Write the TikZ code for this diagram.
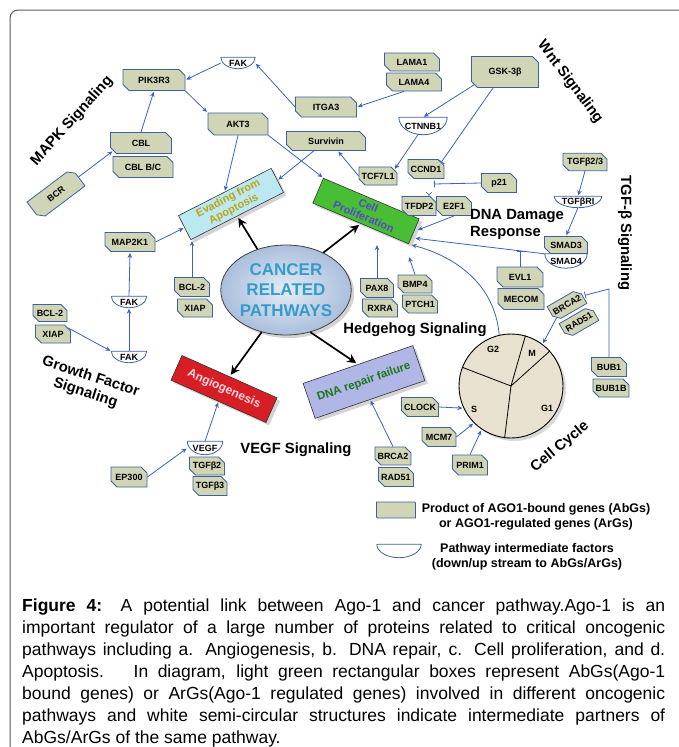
\documentclass[tikz,border=0pt]{standalone}
\usepackage{fontspec}
\setmainfont{Liberation Sans}
\usetikzlibrary{shapes.geometric, shapes.misc, arrows.meta, calc, shadows}

\definecolor{genefill}{RGB}{208,213,182}
\definecolor{genedraw}{RGB}{62,96,160}
\definecolor{linkblue}{RGB}{58,98,190}
\definecolor{evadefill}{RGB}{188,232,242}
\definecolor{evadetext}{RGB}{188,165,18}
\definecolor{profill}{RGB}{72,190,52}
\definecolor{protext}{RGB}{88,72,200}
\definecolor{angiofill}{RGB}{214,30,36}
\definecolor{angiotext}{RGB}{255,214,224}
\definecolor{dnafill}{RGB}{176,182,230}
\definecolor{dnatext}{RGB}{28,120,24}
\definecolor{crpfill}{RGB}{170,190,220}
\definecolor{crptext}{RGB}{52,156,204}
\definecolor{cycfill}{RGB}{232,225,208}
\definecolor{framegray}{RGB}{90,90,90}

\begin{document}
\begin{tikzpicture}[
    x=1pt, y=-1pt,
    gene/.style={
        chamfered rectangle,
        chamfered rectangle corners={north east,south west},
        chamfered rectangle xsep=2.5pt,
        draw=genedraw,
        fill=genefill,
        line width=0.8pt,
        inner xsep=0pt,
        inner ysep=1pt,
        minimum width=35pt,
        minimum height=19pt,
        font=\fontsize{9}{10}\selectfont\bfseries
    },
    semi/.style 2 args={
        inner sep=0pt,
        minimum width=#1,
        minimum height=#2,
        font=\fontsize{9}{10}\selectfont\bfseries
    },
    semiline/.style={draw=genedraw, line width=0.8pt},
    pathbox/.style={
        rectangle,
        draw=black!80,
        line width=0.6pt,
        minimum width=104pt,
        minimum height=27pt,
        inner sep=1pt,
        align=center,
        font=\fontsize{11}{12}\selectfont\bfseries,
        drop shadow={shadow xshift=3pt, shadow yshift=-3pt, opacity=0.35}
    },
    hub/.style={
        ellipse,
        draw=black!75,
        line width=0.8pt,
        inner color=crpfill!30!white,
        outer color=crpfill,
        minimum width=128pt,
        minimum height=90pt,
        inner sep=0pt,
        align=center,
        text=crptext,
        font=\fontsize{17}{20.5}\selectfont\bfseries,
        drop shadow={shadow xshift=3pt, shadow yshift=-3pt, opacity=0.35}
    },
    sig/.style={align=center, font=\fontsize{14.8}{17}\selectfont\bfseries},
    phase/.style={font=\fontsize{9}{10}\selectfont\bfseries},
    legtext/.style={align=center, font=\fontsize{12.5}{14.5}\selectfont\bfseries},
    arrow/.style={-{Stealth[length=5pt,width=4.5pt]}, draw=linkblue, line width=0.8pt, shorten >=1pt},
    inhibit/.style={-{Bar[width=7pt]}, draw=linkblue, line width=0.8pt},
    dblarrow/.style={-{Implies}, draw=linkblue, double=white, double distance=1.4pt, line width=0.6pt},
    bigarrow/.style={-{Stealth[length=9pt,width=9pt,inset=3pt]}, line width=1.7pt, shorten >=2pt}
]
\useasboundingbox (0,0) rectangle (678,747);

% frame
\draw[framegray, line width=1pt, rounded corners=8pt] (10,760) |- (700,10);

% pathways
\node[hub] (crp) at (286,290) {CANCER\\RELATED\\PATHWAYS};
\node[pathbox, fill=evadefill, text=evadetext, rotate=27] (evading) at (231,204) {Evading from\\Apoptosis};
\node[pathbox, fill=profill, text=protext, rotate=-23] (cellpro) at (366,211) {Cell\\Proliferation};
\node[pathbox, fill=angiofill, text=angiotext, rotate=-24,
      font=\fontsize{12}{13}\selectfont\bfseries] (angio) at (224,389) {Angiogenesis};
\node[pathbox, fill=dnafill, text=dnatext, rotate=19, minimum width=116pt, minimum height=37pt,
      font=\fontsize{11.5}{12}\selectfont\bfseries] (dnarep) at (364,382) {DNA repair failure};

% cell cycle
\node[circle, draw=black, line width=0.9pt, fill=cycfill, minimum size=104pt, inner sep=0pt,
      drop shadow={shadow xshift=3pt, shadow yshift=-3pt, opacity=0.3}] (cyc) at (511,386) {};
\foreach \a in {74,159,263,42}
    \draw[line width=0.8pt] (cyc.center) -- (cyc.\a);
\node[phase] (g2) at (493,349) {G2};
\node[phase] (m) at (532,353) {M};
\node[phase] (s) at (474,409) {S};
\node[phase] (g1) at (547,408) {G1};

% MAPK / PI3K part
\node[gene, minimum width=62pt, minimum height=21pt] (pik3r3) at (154,80) {PIK3R3};
\node[gene, minimum width=60pt, minimum height=22pt] (akt3) at (238,124) {AKT3};
\node[gene, minimum width=61pt, minimum height=21pt] (cbl) at (141,143) {CBL};
\node[gene, minimum width=60pt, minimum height=21pt] (cblbc) at (143,167) {CBL B/C};
\node[gene, minimum width=56pt, minimum height=22pt, rotate=37] (bcr) at (56,194) {BCR};
\node[gene, minimum width=61pt, minimum height=20pt] (itga3) at (326,107) {ITGA3};
\node[gene, minimum width=79pt] (survivin) at (326,141) {Survivin};
\node[gene, minimum width=55pt, minimum height=18pt] (lama1) at (412,62) {LAMA1};
\node[gene, minimum width=55pt, minimum height=18pt] (lama4) at (414,82) {LAMA4};
\node[semi={34pt}{11pt}] (fakt) at (238,63) {FAK};

% Wnt part
\node[gene, minimum width=67pt, minimum height=31pt] (gsk) at (505,72) {GSK-3β};
\node[semi={48pt}{17pt}] (ctnnb1) at (423,126) {CTNNB1};
\node[gene, minimum width=34pt, minimum height=18pt] (tcf7l1) at (378,176) {TCF7L1};
\node[gene, minimum width=33pt] (ccnd1) at (426,169) {CCND1};
\node[gene] (p21) at (499,183) {p21};
\node[gene, minimum width=34pt] (tfdp2) at (419,206) {TFDP2};
\node[gene] (e2f1) at (454,206) {E2F1};

% TGF-beta part
\node[gene, minimum width=44pt, minimum height=15pt] (tgfb23) at (585,162) {TGFβ2/3};
\node[semi={47pt}{11pt}] (tgfbri) at (578,202) {TGFβRI};
\node[gene, minimum width=43pt, minimum height=17pt] (smad3) at (566,245) {SMAD3};
\node[semi={42pt}{14pt}] (smadf) at (566,261) {SMAD4};
\node[gene, minimum width=46pt, minimum height=20pt] (evl1) at (520,277) {EVL1};
\node[gene, minimum width=46pt, minimum height=21pt] (mecom) at (521,299) {MECOM};
\node[gene, minimum width=36pt, minimum height=17pt, rotate=30] (brcaa) at (567,305) {BRCA2};
\node[gene, minimum width=36pt, minimum height=17pt, rotate=30] (rada) at (579,322) {RAD51};
\node[gene] (bub1) at (609,367) {BUB1};
\node[gene, minimum height=18pt] (bub1b) at (611,388) {BUB1B};
\coordinate (bubturn) at (609,289);

% Hedgehog part
\node[gene, minimum width=33pt] (pax8) at (377,288) {PAX8};
\node[gene, minimum height=18pt] (rxra) at (380,308) {RXRA};
\node[gene, minimum width=34pt, minimum height=18pt] (bmp4) at (415,284) {BMP4};
\node[gene, minimum height=18pt] (ptch1) at (420,304) {PTCH1};

% apoptosis / growth factor part
\node[gene] (bclm) at (192,287) {BCL-2};
\node[gene, minimum height=18pt] (xiapm) at (195,308) {XIAP};
\node[gene, minimum width=50pt] (map2k1) at (130,242) {MAP2K1};
\node[semi={35pt}{11pt}] (fakm) at (129,302) {FAK};
\node[semi={35pt}{11pt}] (fakl) at (129,357) {FAK};
\node[gene, minimum width=34pt, minimum height=17pt] (bcll) at (50,313) {BCL-2};
\node[gene, minimum height=18pt] (xiapl) at (53,334) {XIAP};

% VEGF part
\node[semi={35pt}{13pt}] (vegf) at (205,448) {VEGF};
\node[gene, minimum height=18pt] (tgfbb) at (207,466) {TGFβ2};
\node[gene, minimum width=34pt] (tgfbc) at (210,486) {TGFβ3};
\node[gene, minimum width=36pt, minimum height=20pt] (ep300) at (129,477) {EP300};

% DNA repair / cell cycle genes
\node[gene, minimum width=34pt, minimum height=18pt] (brcab) at (393,456) {BRCA2};
\node[gene] (radb) at (396,477) {RAD51};
\node[gene, minimum width=34pt] (clock) at (420,407) {CLOCK};
\node[gene, minimum width=34pt] (mcm7) at (439,437) {MCM7};
\node[gene, minimum height=20pt] (prim1) at (470,465) {PRIM1};

% half-round intermediate factors
\node[semi={44pt}{13pt}] (legsemi) at (399,551) {};
\foreach \s in {fakt,ctnnb1,tgfbri,smadf,fakm,fakl,vegf,legsemi}
    \draw[semiline] (\s.north west) -- (\s.north east)
        .. controls ($(\s.north east)!0.55!(\s.south east)$) and ($(\s.south)!0.55!(\s.south east)$) .. (\s.south)
        .. controls ($(\s.south)!0.55!(\s.south west)$) and ($(\s.north west)!0.55!(\s.south west)$) .. (\s.north west);

% pathway labels
\node[sig, rotate=48] (mapklab) at (72,121) {MAPK Signaling};
\node[sig, rotate=-53] (wntlab) at (570,82) {Wnt Signaling};
\node[sig, rotate=-90] (tgflab) at (625,233) {TGF-β Signaling};
\node[sig, align=left] (dnadlab) at (517,224) {DNA Damage\\Response};
\node[sig] (hedgelab) at (415,330) {Hedgehog Signaling};
\node[sig, rotate=-18] (growlab) at (88,385) {Growth Factor\\Signaling};
\node[sig] (vegflab) at (296,450) {VEGF Signaling};
\node[sig, rotate=40] (cyclab) at (560,447) {Cell Cycle};

% connectors
\draw[bigarrow] (crp.125) -- (evading.south);
\draw[bigarrow] (crp.45) -- (cellpro.south);
\draw[bigarrow] (crp.-120) -- (angio.north);
\draw[bigarrow] (crp.-60) -- (dnarep.north);

\draw[arrow] (itga3.west) -- (fakt.east);
\draw[arrow] (fakt.west) -- (pik3r3.east);
\draw[arrow] (pik3r3.south east) -- (akt3.north west);
\draw[arrow] (cbl.north) -- (pik3r3.south);
\draw[arrow] (bcr.east) -- (cbl.south west);
\draw[arrow] (akt3.south) -- (evading.north);
\draw[arrow] (akt3.south east) -- (cellpro.north west);
\draw[arrow] (survivin) -- (evading.east);
\draw[arrow] (tcf7l1.west) -- (survivin.-40);
\draw[arrow] (ctnnb1.-120) -- (tcf7l1.north east);
\draw[arrow] (gsk.south west) -- (ctnnb1.north);
\draw[inhibit] ([xshift=-12pt]gsk.south) -- (ccnd1.north east);
\draw[arrow] ([xshift=-10pt]lama4.south) -- (itga3.east);
\draw[dblarrow] ([xshift=3pt]ccnd1.south) -- ([xshift=10pt]tfdp2.north);
\coordinate (ccbar) at (434,184);
\draw[inhibit] (p21.west) -- (ccbar);
\draw[arrow, shorten >=4pt] (e2f1.south) -- (cellpro.east);
\draw[arrow, shorten >=4pt] (smadf.north west) -- coordinate[pos=0.18] (evlhit) ($(cellpro.east)!0.5!(cellpro.south east)$);
\draw[inhibit] (evl1.north) -- (evl1.north |- evlhit);
\draw[arrow, shorten >=3pt] (cyc.103) to[out=95, in=-15] (cellpro.south east);
\draw[arrow] (tgfb23.south) -- (tgfbri.north);
\draw[arrow] (tgfbri.south) -- (smad3.north);
\draw[arrow] (brcaa.south west) -- (cyc.53);
\draw[inhibit, shorten >=2pt] (bub1.north) -- (bubturn) -- (brcaa.east);
\draw[arrow] (pax8.north) -- (pax8.north |- cellpro.south east);
\draw[arrow] (bmp4.north) -- ([yshift=-12pt]cellpro.south east);
\draw[arrow] (bclm.north) -- (bclm.north |- evading.south west);
\draw[arrow] (map2k1.east) -- (evading.west);
\draw[arrow] (fakm.north) -- (map2k1.south);
\draw[arrow] (fakl.north) -- (fakm.south);
\draw[arrow] (xiapl.north east) -- (fakl.north west);
\draw[arrow] (ep300.east) -- (vegf.west);
\draw[arrow] (vegf.north) -- (angio.south);
\draw[arrow] (brcab.north) -- (dnarep.south);
\draw[arrow] (clock.east) -- (cyc.205);
\draw[arrow] (mcm7.east) -- (cyc.225);
\draw[arrow] (prim1.north) -- (cyc.236);

% legend
\node[gene, minimum width=39pt, minimum height=16pt] (leggene) at (396,510) {};
\node[legtext] (legprod) at (536,517) {Product of AGO1-bound genes (AbGs)\\or AGO1-regulated genes (ArGs)};
\node[legtext] (legpath) at (527,557) {Pathway intermediate factors\\(down/up stream to AbGs/ArGs)};

% caption
\node[anchor=north west, inner sep=0pt, text width=643pt, align=justify,
      font=\fontsize{17.5}{22}\selectfont] (caption) at (22,599)
    {\textbf{Figure 4:} A potential link between Ago-1 and cancer pathway.Ago-1 is an\linebreak
     important regulator of a large number of proteins related to critical oncogenic\linebreak
     pathways including a. Angiogenesis, b. DNA repair, c. Cell proliferation, and d.\linebreak
     Apoptosis.~ In diagram, light green rectangular boxes represent AbGs(Ago-1\linebreak
     bound genes) or ArGs(Ago-1 regulated genes) involved in different oncogenic\linebreak
     pathways and white semi-circular structures indicate intermediate partners of\linebreak
     AbGs/ArGs of the same pathway.};

\end{tikzpicture}
\end{document}
